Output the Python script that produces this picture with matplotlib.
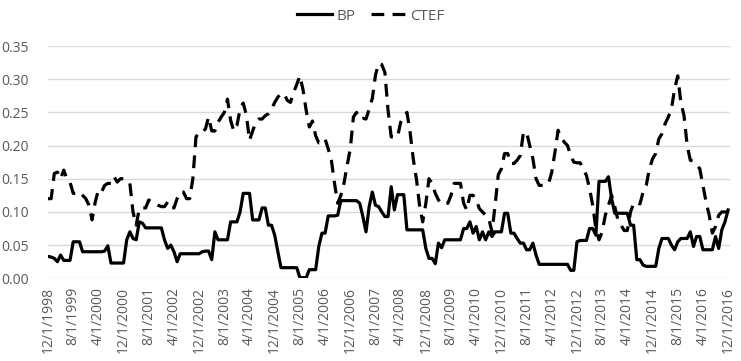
import matplotlib
matplotlib.use("Agg")
import matplotlib.pyplot as plt
import pandas as pd

plt.rcParams['font.family'] = ['Open Sans', 'DejaVu Sans']

dates = pd.date_range('1998-12-01', periods=217, freq='MS')

bp = [0.033, 0.032, 0.030, 0.025, 0.035, 0.027, 0.027, 0.027, 0.055, 0.055,
      0.055, 0.040, 0.040, 0.040, 0.040, 0.040, 0.040, 0.040, 0.041, 0.049,
      0.023, 0.023, 0.023, 0.023, 0.023, 0.058, 0.070, 0.060, 0.058, 0.085,
      0.083, 0.076, 0.076, 0.076, 0.076, 0.076, 0.076, 0.058, 0.045, 0.050,
      0.040, 0.025, 0.037, 0.037, 0.037, 0.037, 0.037, 0.037, 0.037, 0.040,
      0.041, 0.041, 0.028, 0.070, 0.058, 0.058, 0.058, 0.058, 0.085, 0.085,
      0.085, 0.100, 0.128, 0.128, 0.128, 0.088, 0.088, 0.088, 0.106, 0.106,
      0.080, 0.080, 0.065, 0.040, 0.016, 0.016, 0.016, 0.016, 0.016, 0.016,
      0.001, 0.001, 0.001, 0.013, 0.013, 0.013, 0.048, 0.068, 0.068, 0.094,
      0.094, 0.094, 0.095, 0.117, 0.117, 0.117, 0.117, 0.117, 0.117, 0.113,
      0.093, 0.070, 0.108, 0.130, 0.110, 0.108, 0.100, 0.093, 0.093, 0.138,
      0.103, 0.126, 0.126, 0.126, 0.073, 0.073, 0.073, 0.073, 0.073, 0.073,
      0.045, 0.030, 0.030, 0.022, 0.053, 0.046, 0.058, 0.058, 0.058, 0.058,
      0.058, 0.058, 0.075, 0.075, 0.085, 0.068, 0.078, 0.058, 0.070, 0.058,
      0.070, 0.063, 0.070, 0.070, 0.070, 0.098, 0.098, 0.068, 0.068, 0.060,
      0.053, 0.053, 0.043, 0.043, 0.053, 0.035, 0.021, 0.021, 0.021, 0.021,
      0.021, 0.021, 0.021, 0.021, 0.021, 0.021, 0.012, 0.012, 0.055, 0.057,
      0.057, 0.057, 0.075, 0.075, 0.065, 0.146, 0.146, 0.146, 0.153, 0.120,
      0.098, 0.098, 0.098, 0.098, 0.098, 0.080, 0.080, 0.028, 0.028, 0.020,
      0.018, 0.018, 0.018, 0.018, 0.045, 0.060, 0.060, 0.060, 0.050, 0.043,
      0.055, 0.060, 0.060, 0.060, 0.070, 0.048, 0.063, 0.063, 0.043, 0.043,
      0.043, 0.043, 0.063, 0.045, 0.073, 0.085, 0.103]

ctef = [0.120, 0.120, 0.158, 0.160, 0.150, 0.163, 0.150, 0.145, 0.128, 0.128,
        0.130, 0.125, 0.120, 0.110, 0.088, 0.115, 0.133, 0.130, 0.140, 0.143,
        0.143, 0.153, 0.145, 0.150, 0.150, 0.145, 0.143, 0.100, 0.080, 0.105,
        0.106, 0.106, 0.118, 0.115, 0.113, 0.110, 0.108, 0.108, 0.115, 0.106,
        0.106, 0.120, 0.130, 0.130, 0.120, 0.120, 0.150, 0.213, 0.220, 0.220,
        0.225, 0.243, 0.222, 0.222, 0.235, 0.243, 0.250, 0.270, 0.238, 0.222,
        0.230, 0.255, 0.264, 0.246, 0.208, 0.222, 0.235, 0.240, 0.240, 0.245,
        0.248, 0.255, 0.265, 0.273, 0.278, 0.278, 0.268, 0.265, 0.280, 0.292,
        0.305, 0.284, 0.253, 0.228, 0.237, 0.215, 0.204, 0.205, 0.210, 0.195,
        0.178, 0.143, 0.113, 0.125, 0.143, 0.170, 0.195, 0.243, 0.250, 0.240,
        0.241, 0.240, 0.255, 0.271, 0.306, 0.324, 0.322, 0.310, 0.253, 0.213,
        0.213, 0.213, 0.235, 0.243, 0.250, 0.220, 0.180, 0.150, 0.110, 0.085,
        0.113, 0.150, 0.143, 0.128, 0.118, 0.112, 0.113, 0.113, 0.125, 0.143,
        0.143, 0.143, 0.113, 0.103, 0.125, 0.125, 0.118, 0.105, 0.100, 0.095,
        0.090, 0.070, 0.110, 0.156, 0.165, 0.188, 0.188, 0.173, 0.173, 0.178,
        0.185, 0.220, 0.220, 0.200, 0.180, 0.150, 0.140, 0.140, 0.140, 0.143,
        0.160, 0.190, 0.223, 0.212, 0.205, 0.200, 0.185, 0.175, 0.174, 0.174,
        0.165, 0.155, 0.135, 0.110, 0.075, 0.058, 0.070, 0.095, 0.110, 0.125,
        0.108, 0.088, 0.080, 0.072, 0.072, 0.100, 0.113, 0.115, 0.112, 0.130,
        0.140, 0.165, 0.180, 0.188, 0.210, 0.218, 0.233, 0.243, 0.255, 0.285,
        0.305, 0.265, 0.245, 0.200, 0.178, 0.176, 0.172, 0.165, 0.140, 0.115,
        0.095, 0.068, 0.078, 0.095, 0.100, 0.100, 0.100]

tick_labels = ['12/1/1998', '8/1/1999', '4/1/2000', '12/1/2000', '8/1/2001',
               '4/1/2002', '12/1/2002', '8/1/2003', '4/1/2004', '12/1/2004',
               '8/1/2005', '4/1/2006', '12/1/2006', '8/1/2007', '4/1/2008',
               '12/1/2008', '8/1/2009', '4/1/2010', '12/1/2010', '8/1/2011',
               '4/1/2012', '12/1/2012', '8/1/2013', '4/1/2014', '12/1/2014',
               '8/1/2015', '4/1/2016', '12/1/2016']
yticks = [0.00, 0.05, 0.10, 0.15, 0.20, 0.25, 0.30, 0.35]

fig = plt.figure(figsize=(7.41, 3.61), dpi=100)
ax = fig.add_axes([48/741, (361-278.3)/361, (730-48)/741, (278.3-46)/361])

x = list(range(len(dates)))
ax.plot(x, bp, color='black', lw=2.3, label='BP', solid_joinstyle='round')
ax.plot(x, ctef, color='black', lw=2.3, dashes=(4, 2.6), label='CTEF')

ax.set_ylim(0, 0.35)
ax.set_xlim(0, 216.6)
ax.set_yticks(yticks)
ax.set_yticklabels([f'{v:.2f}' for v in yticks])
tick_pos = [dates.get_loc(pd.Timestamp(f"{l.split('/')[2]}-{int(l.split('/')[0]):02d}-01")) for l in tick_labels]
ax.set_xticks(tick_pos)
ax.set_xticklabels(tick_labels, rotation=90)
ax.tick_params(axis='both', length=0, colors='#595959', labelsize=10)
ax.tick_params(axis='x', pad=6)
ax.tick_params(axis='y', pad=14)
ax.grid(axis='y', color='#d9d9d9', lw=1)
ax.set_axisbelow(True)
for s in ax.spines.values():
    s.set_visible(False)

leg = fig.legend(loc='center', bbox_to_anchor=(0.5, 0.955), ncol=2, frameon=False,
                 fontsize=11, handlelength=2.3, columnspacing=1.0, handletextpad=0.3)
for t in leg.get_texts():
    t.set_color('#595959')

fig.savefig('out.png', dpi=100)
